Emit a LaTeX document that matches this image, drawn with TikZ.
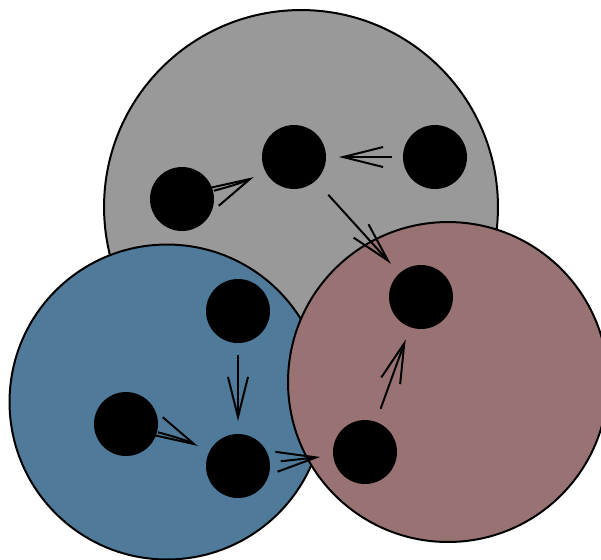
\documentclass[tikz,border=0pt]{standalone}
\usepackage{tikz}
\usetikzlibrary{arrows.meta}
\definecolor{groupgray}{RGB}{153,153,153}
\definecolor{groupblue}{RGB}{79,122,153}
\definecolor{grouprose}{RGB}{153,115,115}

\begin{document}
\begin{tikzpicture}[x=0.02cm, y=-0.02cm, line width=0.04cm,
  group/.style={circle, draw=black, inner sep=0pt},
  member/.style={circle, fill=black, inner sep=0pt, minimum size=1.28cm},
  link/.style={-{Straight Barb[length=0.8cm, width=0.4cm]}, shorten <=0.22cm, shorten >=0.24cm}]
  \useasboundingbox (0,0) rectangle (601,559);
  \clip (0,0) rectangle (601,559);
  % Three groups
  \node[group, fill=groupgray, minimum size=7.88cm] (upper) at (301,207) {};
  \node[group, fill=groupblue, minimum size=6.3cm] (left) at (167,402) {};
  \node[group, fill=grouprose, minimum size=6.4cm] (right) at (448,382) {};
  % Members of the upper group
  \node[member] (u1) at (182,199) {};
  \node[member] (u2) at (294,157) {};
  \node[member] (u3) at (435,157) {};
  % Members of the left group
  \node[member] (l1) at (238,311) {};
  \node[member] (l2) at (126,424) {};
  \node[member] (l3) at (238,466) {};
  % Members of the right group
  \node[member] (r1) at (421,297) {};
  \node[member] (r2) at (365,452) {};
  % Links
  \draw[link, shorten <=0cm] (u1) to[bend right=6] (u2);
  \draw[link, shorten <=0.2cm] (u3) -- (u2);
  \draw[link, shorten <=0.36cm] (u2) -- (r1);
  \draw[link] (l1) -- (l3);
  \draw[link, shorten <=0cm] (l2) to[bend left=6] (l3);
  \draw[link, shorten <=0.2cm] (l3) -- (r2);
  \draw[link, shorten <=0.26cm] (r2) -- (r1);
\end{tikzpicture}
\end{document}
